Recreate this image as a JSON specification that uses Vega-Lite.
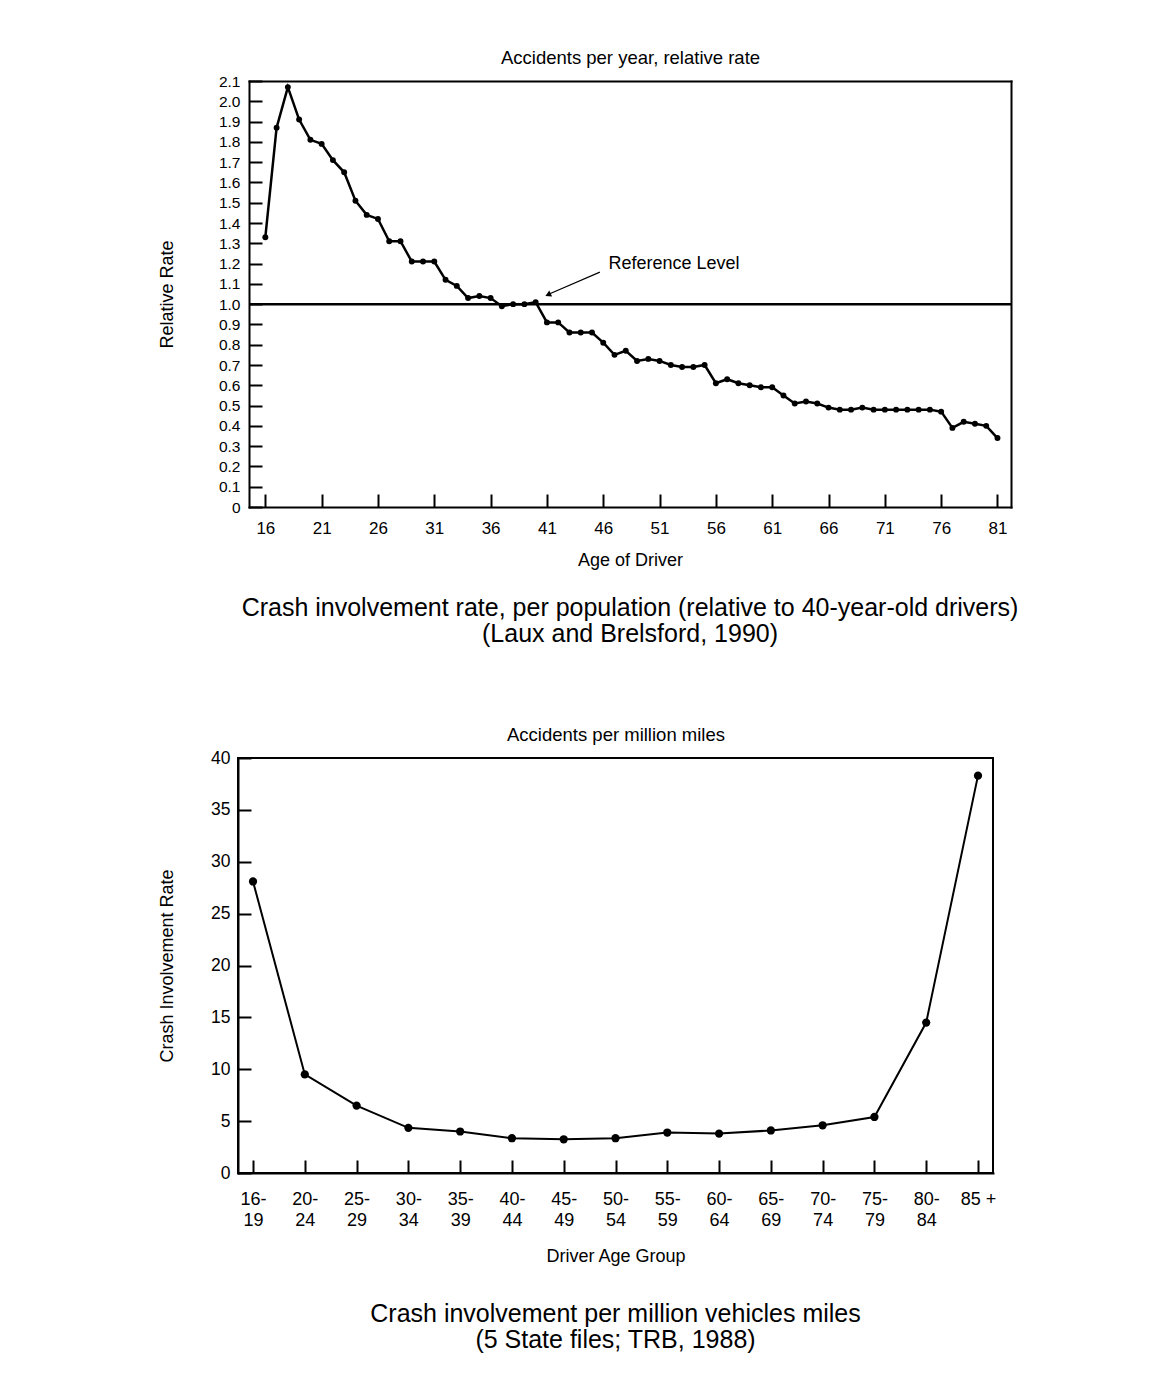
{
  "$schema": "https://vega.github.io/schema/vega-lite/v6.json",
  "background": "white",
  "padding": {"left": 157, "top": 48, "right": 5, "bottom": 5},
  "spacing": 77,
  "datasets": {
    "relative": [
      {"age": 16, "rate": 1.33}, {"age": 17, "rate": 1.87}, {"age": 18, "rate": 2.07}, {"age": 19, "rate": 1.91},
      {"age": 20, "rate": 1.81}, {"age": 21, "rate": 1.79}, {"age": 22, "rate": 1.71}, {"age": 23, "rate": 1.65},
      {"age": 24, "rate": 1.51}, {"age": 25, "rate": 1.44}, {"age": 26, "rate": 1.42}, {"age": 27, "rate": 1.31},
      {"age": 28, "rate": 1.31}, {"age": 29, "rate": 1.21}, {"age": 30, "rate": 1.21}, {"age": 31, "rate": 1.21},
      {"age": 32, "rate": 1.12}, {"age": 33, "rate": 1.09}, {"age": 34, "rate": 1.03}, {"age": 35, "rate": 1.04},
      {"age": 36, "rate": 1.03}, {"age": 37, "rate": 0.99}, {"age": 38, "rate": 1.0}, {"age": 39, "rate": 1.0},
      {"age": 40, "rate": 1.01}, {"age": 41, "rate": 0.91}, {"age": 42, "rate": 0.91}, {"age": 43, "rate": 0.86},
      {"age": 44, "rate": 0.86}, {"age": 45, "rate": 0.86}, {"age": 46, "rate": 0.81}, {"age": 47, "rate": 0.75},
      {"age": 48, "rate": 0.77}, {"age": 49, "rate": 0.72}, {"age": 50, "rate": 0.73}, {"age": 51, "rate": 0.72},
      {"age": 52, "rate": 0.7}, {"age": 53, "rate": 0.69}, {"age": 54, "rate": 0.69}, {"age": 55, "rate": 0.7},
      {"age": 56, "rate": 0.61}, {"age": 57, "rate": 0.63}, {"age": 58, "rate": 0.61}, {"age": 59, "rate": 0.6},
      {"age": 60, "rate": 0.59}, {"age": 61, "rate": 0.59}, {"age": 62, "rate": 0.55}, {"age": 63, "rate": 0.51},
      {"age": 64, "rate": 0.52}, {"age": 65, "rate": 0.51}, {"age": 66, "rate": 0.49}, {"age": 67, "rate": 0.48},
      {"age": 68, "rate": 0.48}, {"age": 69, "rate": 0.49}, {"age": 70, "rate": 0.48}, {"age": 71, "rate": 0.48},
      {"age": 72, "rate": 0.48}, {"age": 73, "rate": 0.48}, {"age": 74, "rate": 0.48}, {"age": 75, "rate": 0.48},
      {"age": 76, "rate": 0.47}, {"age": 77, "rate": 0.39}, {"age": 78, "rate": 0.42}, {"age": 79, "rate": 0.41},
      {"age": 80, "rate": 0.4}, {"age": 81, "rate": 0.34}
    ],
    "mileage": [
      {"group": "16-19", "rate": 28.1}, {"group": "20-24", "rate": 9.5}, {"group": "25-29", "rate": 6.5},
      {"group": "30-34", "rate": 4.35}, {"group": "35-39", "rate": 4.0}, {"group": "40-44", "rate": 3.35},
      {"group": "45-49", "rate": 3.25}, {"group": "50-54", "rate": 3.35}, {"group": "55-59", "rate": 3.9},
      {"group": "60-64", "rate": 3.8}, {"group": "65-69", "rate": 4.1}, {"group": "70-74", "rate": 4.6},
      {"group": "75-79", "rate": 5.4}, {"group": "80-84", "rate": 14.5}, {"group": "85 +", "rate": 38.3}
    ],
    "single": [{}]
  },
  "config": {
    "font": "Liberation Sans",
    "view": {"stroke": "black", "strokeWidth": 2},
    "axis": {
      "domainColor": "black", "domainWidth": 2, "domainCap": "square", "tickColor": "black", "tickWidth": 2,
      "labelColor": "black", "titleColor": "black", "titleFontWeight": "normal", "grid": false,
      "labelFont": "Liberation Sans", "titleFont": "Liberation Sans", "labelOverlap": false
    },
    "title": {"fontWeight": "normal", "color": "black", "font": "Liberation Sans"}
  },
  "vconcat": [
    {
      "width": 773,
      "height": 426,
      "view": {"stroke": null},
      "title": {
        "text": ["Crash involvement rate, per population (relative to 40-year-old drivers)", "(Laux and Brelsford, 1990)"],
        "orient": "bottom", "anchor": "middle", "frame": "group", "dx": 5.5, "fontSize": 25, "lineHeight": 26, "offset": 27
      },
      "resolve": {"axis": {"x": "independent", "y": "independent"}},
      "layer": [
        {
          "data": {"name": "relative"},
          "mark": {"type": "line", "color": "black", "strokeWidth": 2.5},
          "encoding": {
            "x": {
              "field": "age", "type": "quantitative",
              "scale": {"domain": [14.55, 82.2], "range": [11, 773], "nice": false, "zero": false},
              "axis": {
                "title": "Age of Driver", "values": [16, 21, 26, 31, 36, 41, 46, 51, 56, 61, 66, 71, 76, 81],
                "tickSize": -13, "labelPadding": 26, "labelFontSize": 17, "titleFontSize": 18, "titlePadding": 15
              }
            },
            "y": {
              "field": "rate", "type": "quantitative",
              "scale": {"domain": [0, 2.1], "nice": false},
              "axis": {
                "title": "Relative Rate", "offset": -11,
                "values": [0, 0.1, 0.2, 0.3, 0.4, 0.5, 0.6, 0.7, 0.8, 0.9, 1.0, 1.1, 1.2, 1.3, 1.4, 1.5, 1.6, 1.7, 1.8, 1.9, 2.0, 2.1],
                "labelExpr": "datum.value == 0 ? '0' : format(datum.value, '.1f')",
                "tickSize": -13, "labelPadding": 22, "labelFontSize": 15.5, "titleFontSize": 18, "titlePadding": 42
              }
            }
          }
        },
        {
          "data": {"name": "relative"},
          "mark": {"type": "point", "filled": true, "color": "black", "size": 35, "opacity": 1},
          "encoding": {
            "x": {
              "field": "age", "type": "quantitative",
              "axis": {"orient": "top", "title": "Accidents per year, relative rate", "labels": false, "ticks": false, "domain": true, "titleFontSize": 18.5, "titlePadding": 14}
            },
            "y": {
              "field": "rate", "type": "quantitative",
              "axis": {"orient": "right", "title": null, "labels": false, "ticks": false, "domain": true}
            }
          }
        },
        {
          "data": {"name": "single"},
          "mark": {"type": "rule", "color": "black", "strokeWidth": 2.5},
          "encoding": {
            "x": {"datum": 14.55, "type": "quantitative", "axis": null},
            "x2": {"datum": 82.2},
            "y": {"datum": 1, "type": "quantitative", "axis": null}
          }
        },
        {
          "data": {"name": "single"},
          "mark": {"type": "rule", "color": "black", "strokeWidth": 1.2},
          "encoding": {
            "x": {"datum": 45.7, "type": "quantitative", "axis": null},
            "y": {"datum": 1.158, "type": "quantitative", "axis": null},
            "x2": {"datum": 41.2},
            "y2": {"datum": 1.05}
          }
        },
        {
          "data": {"name": "single"},
          "mark": {"type": "point", "shape": "triangle-up", "filled": true, "color": "black", "size": 45, "angle": 245, "opacity": 1},
          "encoding": {
            "x": {"datum": 41.1, "type": "quantitative", "axis": null},
            "y": {"datum": 1.046, "type": "quantitative", "axis": null}
          }
        },
        {
          "data": {"name": "single"},
          "mark": {"type": "text", "align": "left", "baseline": "middle", "fontSize": 18, "fill": "black"},
          "encoding": {
            "x": {"datum": 46.46, "type": "quantitative", "axis": null},
            "y": {"datum": 1.198, "type": "quantitative", "axis": null},
            "text": {"value": "Reference Level"}
          }
        }
      ]
    },
    {
      "width": 755,
      "height": 415,
      "title": {
        "text": ["Crash involvement per million vehicles miles", "(5 State files; TRB, 1988)"],
        "orient": "bottom", "anchor": "middle", "frame": "group", "fontSize": 25, "lineHeight": 26, "offset": 37
      },
      "data": {"name": "mileage"},
      "resolve": {"axis": {"x": "independent"}},
      "layer": [
        {
          "mark": {"type": "line", "color": "black", "strokeWidth": 2},
          "encoding": {
            "x": {
              "field": "group", "type": "ordinal", "sort": null,
              "scale": {"type": "point", "padding": 0.29},
              "axis": {
                "title": "Driver Age Group", "labelAngle": 0,
                "labelExpr": "indexof(datum.label, '-') > 0 ? [substring(datum.label, 0, 3), substring(datum.label, 3)] : datum.label",
                "tickSize": -13, "labelPadding": 30, "labelFontSize": 18, "labelLineHeight": 21,
                "titleFontSize": 18, "titlePadding": 18
              }
            },
            "y": {
              "field": "rate", "type": "quantitative",
              "scale": {"domain": [0, 40], "nice": false},
              "axis": {
                "title": "Crash Involvement Rate",
                "values": [0, 5, 10, 15, 20, 25, 30, 35, 40],
                "tickSize": -13, "labelPadding": 21, "labelFontSize": 17.5, "titleFontSize": 18, "titlePadding": 34
              }
            }
          }
        },
        {
          "mark": {"type": "point", "filled": true, "color": "black", "size": 68, "opacity": 1},
          "encoding": {
            "x": {
              "field": "group", "type": "ordinal", "sort": null,
              "axis": {"orient": "top", "title": "Accidents per million miles", "labels": false, "ticks": false, "domain": false, "titleFontSize": 18.5, "titlePadding": 14}
            },
            "y": {"field": "rate", "type": "quantitative"}
          }
        }
      ]
    }
  ]
}
